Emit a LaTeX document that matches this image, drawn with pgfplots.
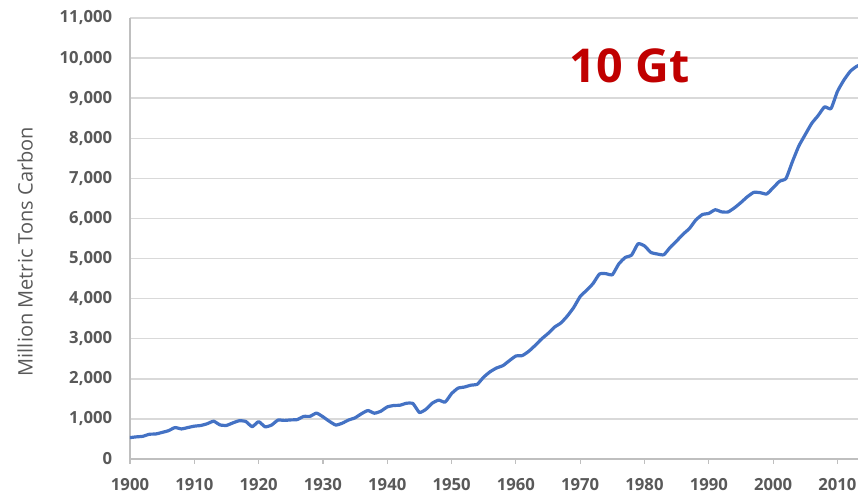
\documentclass[border=0pt]{standalone}
\usepackage{pgfplots}
\pgfplotsset{compat=1.18}
\usepackage{fontspec}
\setmainfont{Open Sans}
\definecolor{tick}{HTML}{595959}
\definecolor{gridc}{HTML}{D9D9D9}
\definecolor{axc}{HTML}{BFBFBF}
\definecolor{line}{HTML}{4472C4}
\definecolor{gt}{HTML}{C00000}
\begin{document}
\begin{tikzpicture}
\path[use as bounding box] (0,0) rectangle (643.5pt,369.75pt);
\begin{axis}[
  at={(97.5pt,25.5pt)}, anchor=south west,
  scale only axis, width=546pt, height=330.75pt,
  xmin=1900, xmax=2013.2, ymin=0, ymax=11000,
  axis x line=bottom, axis y line=left,
  axis line style={draw=axc, line width=0.9pt, -},
  xtick={1900,1910,...,2010},
  ytick={0,1000,...,11000},
  scaled y ticks=false,
  ymajorgrids, grid style={gridc, line width=1.1pt},
  x tick style={draw=axc, line width=0.9pt},
  xtick align=outside, major tick length=3.75pt,
  ytick style={draw=none},
  /pgf/number format/assume math mode=true,
  ticklabel style={font=\fontsize{12.5}{14}\selectfont\bfseries, text=tick},
  xticklabel style={/pgf/number format/1000 sep={}, yshift=-7pt},
  yticklabel style={/pgf/number format/1000 sep={,}, xshift=-8pt},
  ylabel={Million Metric Tons Carbon},
  ylabel style={font=\fontsize{15}{17}\selectfont, text=tick, at={(axis description cs:-0.1442,0.4705)}, anchor=center, rotate=0},
  clip=true,
]
\addplot[line, line width=2.4pt, line join=round, line cap=round, smooth, tension=0.3] coordinates {
(1900,534)(1901,552)(1902,566)(1903,617)(1904,624)(1905,663)(1906,707)(1907,784)(1908,750)(1909,785)
(1910,819)(1911,836)(1912,879)(1913,943)(1914,850)(1915,838)(1916,901)(1917,955)(1918,936)(1919,806)
(1920,932)(1921,803)(1922,845)(1923,970)(1924,963)(1925,975)(1926,983)(1927,1062)(1928,1065)(1929,1145)
(1930,1053)(1931,940)(1932,847)(1933,893)(1934,973)(1935,1027)(1936,1130)(1937,1209)(1938,1142)(1939,1192)
(1940,1299)(1941,1334)(1942,1342)(1943,1391)(1944,1383)(1945,1160)(1946,1238)(1947,1392)(1948,1469)(1949,1419)
(1950,1630)(1951,1767)(1952,1795)(1953,1841)(1954,1865)(1955,2043)(1956,2177)(1957,2270)(1958,2330)(1959,2454)
(1960,2569)(1961,2580)(1962,2686)(1963,2833)(1964,2995)(1965,3130)(1966,3288)(1967,3393)(1968,3566)(1969,3780)
(1970,4053)(1971,4208)(1972,4376)(1973,4614)(1974,4623)(1975,4596)(1976,4864)(1977,5026)(1978,5087)(1979,5369)
(1980,5315)(1981,5152)(1982,5113)(1983,5094)(1984,5280)(1985,5439)(1986,5607)(1987,5752)(1988,5965)(1989,6097)
(1990,6127)(1991,6217)(1992,6164)(1993,6162)(1994,6266)(1995,6398)(1996,6542)(1997,6651)(1998,6643)(1999,6610)
(2000,6765)(2001,6927)(2002,6996)(2003,7416)(2004,7807)(2005,8093)(2006,8370)(2007,8566)(2008,8783)(2009,8740)
(2010,9167)(2011,9449)(2012,9671)(2013,9795)(2014,9855)
};
\node[font=\fontsize{35}{40}\selectfont\bfseries, text=gt] at (axis cs:1977.7,9813) {10 Gt};
\end{axis}
\end{tikzpicture}
\end{document}
